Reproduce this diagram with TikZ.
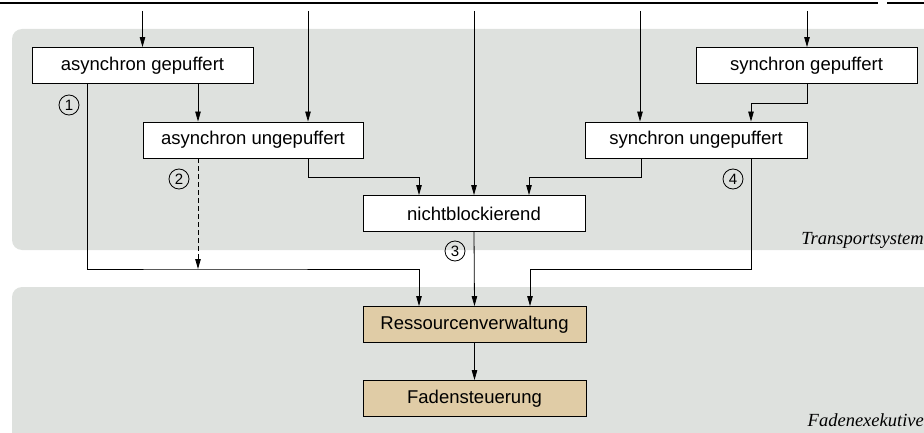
\documentclass[tikz,border=0pt]{standalone}
\usepackage{fontspec}
\setmainfont{Liberation Serif}
\setsansfont{Liberation Sans}
\usetikzlibrary{arrows.meta}
\definecolor{panelgray}{RGB}{222,225,222}
\definecolor{tan}{RGB}{224,204,166}
\tikzset{
  panel/.style={fill=panelgray, draw=none, rounded corners=10pt},
  box/.style={draw=black, line width=0.9pt, fill=white, minimum height=36pt, inner sep=0pt, font=\sffamily\fontsize{18.5}{21}\selectfont},
  tanbox/.style={box, fill=tan},
  conn/.style={line width=0.8pt, draw=black},
  arr/.style={conn, -{Triangle[length=10pt,width=5.5pt]}},
  numcirc/.style={circle, draw=black, line width=0.8pt, minimum size=20pt, inner sep=0pt, font=\sffamily\fontsize{15}{15}\selectfont},
  panellabel/.style={anchor=base east, inner sep=0pt, font=\itshape\fontsize{18.5}{21}\selectfont}
}
\begin{document}
\begin{tikzpicture}[x=1pt, y=-1pt]
\useasboundingbox (0,0) rectangle (924,433);
% panels
\fill[panel] (12,29) rectangle (950,250);
\fill[panel] (12,287) rectangle (950,445);
% top rule
\draw[line width=2pt] (0,3) -- (878,3);
\draw[line width=2pt] (887,3) -- (924,3);
% nodes
\node[box, minimum width=221pt] (ag) at (142.5,65.5) {asynchron gepuffert};
\node[box, minimum width=220pt] (au) at (253,140) {asynchron ungepuffert};
\node[box, minimum width=221pt] (sg) at (806.5,65.5) {synchron gepuffert};
\node[box, minimum width=222pt] (su) at (696,140) {synchron ungepuffert};
\node[box, minimum width=222pt] (nb) at (474,213.5) {nichtblockierend};
\node[tanbox, minimum width=223pt] (rv) at (474.5,324.5) {Ressourcenverwaltung};
\node[tanbox, minimum width=223pt] (fs) at (474.5,398.5) {Fadensteuerung};
% free ends at top
\coordinate (t1) at (142.5,11);
\coordinate (t2) at (308,11);
\coordinate (t3) at (474,11);
\coordinate (t4) at (640,11);
\coordinate (t5) at (807,11);
\coordinate (dashend) at (198,269);
\coordinate (rbend) at (530,269);
% top arrows
\draw[arr] (t1) -- (ag.north);
\draw[arr] (t2) -- (t2 |- au.north);
\draw[arr] (t3) -- (nb.north);
\draw[arr] (t4) -- (t4 |- su.north);
\draw[arr] (t5) -- (t5 |- sg.north);
% inner connections
\draw[arr] ([xshift=55.5pt]ag.south) -- ([xshift=-55pt]au.north);
\draw[arr] ([xshift=0.5pt]sg.south) -- ++(0,19) -| ([xshift=55pt]su.north);
\draw[arr] ([xshift=55pt]au.south) -- ++(0,19) -| ([xshift=-55pt]nb.north);
\draw[arr] ([xshift=-55pt]su.south) -- ++(0,19) -| ([xshift=55pt]nb.north);
\draw[arr] (nb.south) -- (rv.north);
\draw[arr] ([xshift=-55.5pt]ag.south) |- (dashend) -| ([xshift=-55.5pt]rv.north);
\draw[arr, dash pattern=on 5pt off 3pt] ([xshift=-55pt]au.south) -- (dashend);
\draw[arr] ([xshift=55pt]su.south) |- (rbend) -- (rbend |- rv.north);
\draw[arr] (rv.south) -- (fs.north);
% numbered circles
\node[numcirc] (c1) at (69,105) {1};
\node[numcirc] (c2) at (179,179) {2};
\node[numcirc] (c3) at (455,251) {3};
\node[numcirc] (c4) at (733,179) {4};
% panel labels
\node[panellabel] (lt) at (924,244) {Transportsystem};
\node[panellabel] (lf) at (924,426) {Fadenexekutive};
\end{tikzpicture}
\end{document}
